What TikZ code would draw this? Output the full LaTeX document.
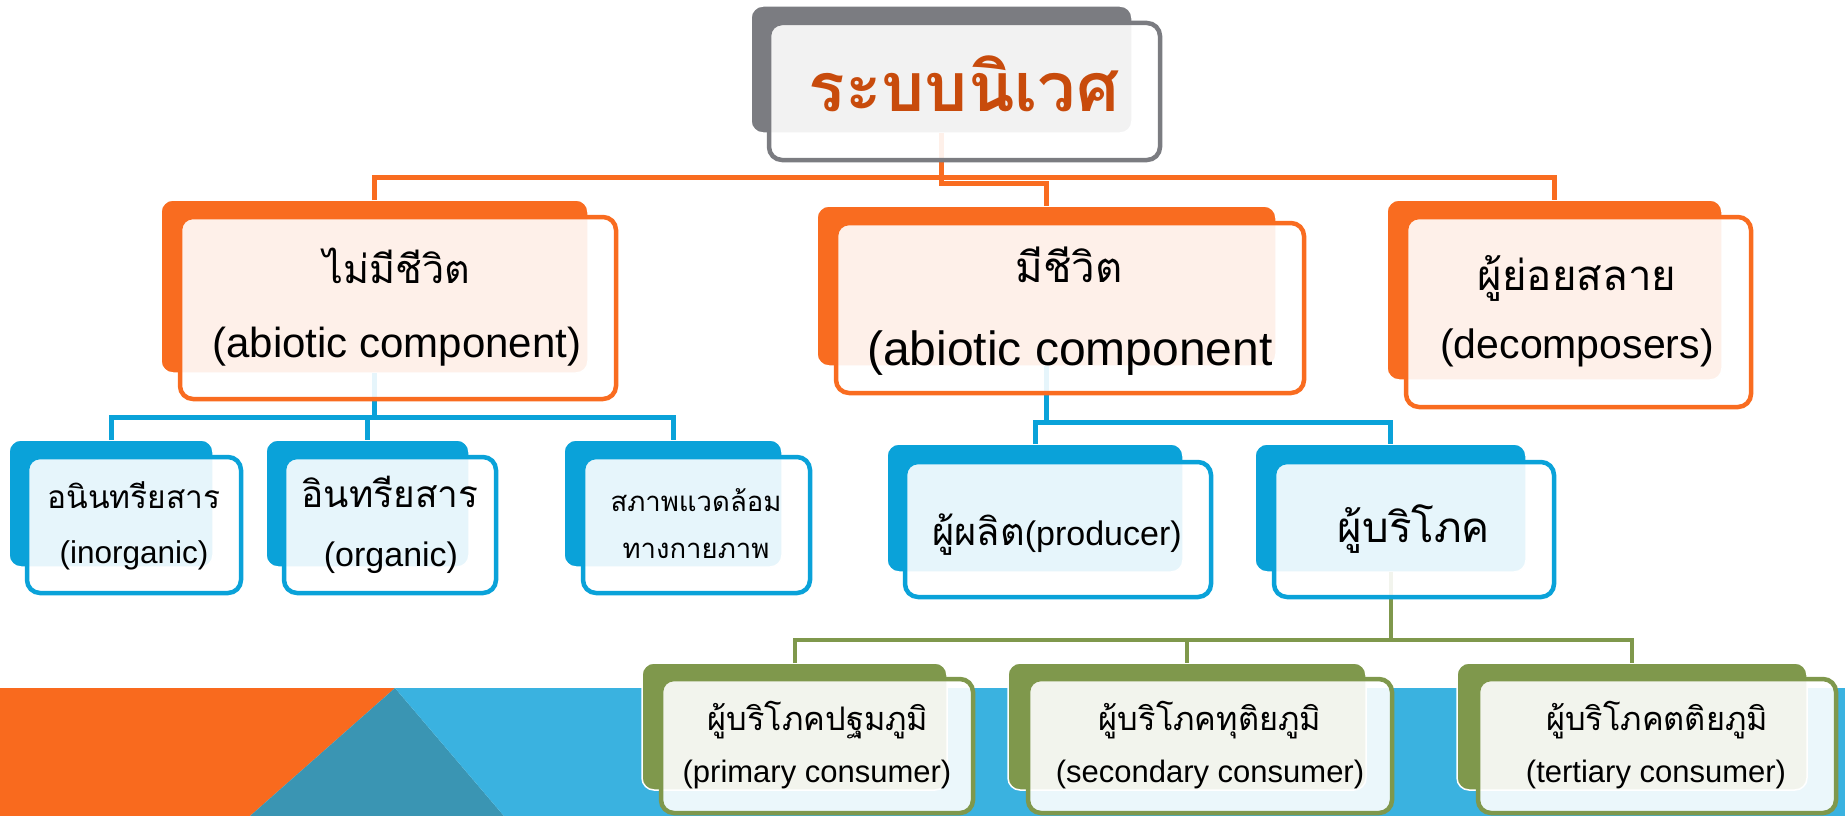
\documentclass[tikz,border=0pt]{standalone}
\usepackage{fontspec}
\setmainfont{Liberation Sans}
\newfontfamily\thai[Script=Thai]{Loma}
\definecolor{cgray}{RGB}{123,124,129}
\definecolor{corange}{RGB}{249,108,32}
\definecolor{ctitle}{RGB}{200,75,12}
\definecolor{cblue}{RGB}{10,162,217}
\definecolor{cgreen}{RGB}{127,152,76}
\definecolor{bandblue}{RGB}{58,178,224}
\definecolor{bandteal}{RGB}{58,149,179}
\definecolor{bandorange}{RGB}{249,106,30}
\tikzset{
  bbox/.style={fill=#1, draw=white, line width=1.5pt, rounded corners=12pt, inner sep=0pt, outer sep=0pt},
  fbox/.style={draw=#1, line width=4.5pt, fill=white, fill opacity=0.9, rounded corners=13pt, inner sep=0pt, outer sep=0pt},
  conn/.style={draw=#1, line width=5pt},
  txt/.style={anchor=base, inner sep=0pt, outer sep=0pt, text=black},
}
\newcommand\mkbox[6]{\node[#2, minimum width={#5-#3}, minimum height={#6-#4}] (#1) at ({(#3+#5)/2},{(#4+#6)/2}) {};}
\newcommand\fs[1]{\fontsize{#1}{#1}\selectfont}
\begin{document}
\begin{tikzpicture}[x=1pt,y=-1pt]
\useasboundingbox (0,0) rectangle (1845,816);
% bottom band
\fill[bandorange] (0,688) -- (395,688) -- (250,816) -- (0,816) -- cycle;
\fill[bandteal] (395,688) -- (250,816) -- (504,816) -- cycle;
\fill[bandblue] (395,688) -- (1845,688) -- (1845,816) -- (504,816) -- cycle;
% back boxes
\mkbox{tb}{bbox=cgray}{751}{6}{1132}{133}
\mkbox{ab}{bbox=corange}{161}{200}{588}{373}
\mkbox{bb}{bbox=corange}{817}{206}{1276}{366}
\mkbox{cb}{bbox=corange}{1387}{200}{1722}{380}
\mkbox{a1b}{bbox=cblue}{9}{440}{213}{567}
\mkbox{a2b}{bbox=cblue}{266}{440}{469}{567}
\mkbox{a3b}{bbox=cblue}{564}{440}{782}{567}
\mkbox{b1b}{bbox=cblue}{887}{444}{1183}{572}
\mkbox{b2b}{bbox=cblue}{1255}{444}{1526}{572}
\mkbox{g1b}{bbox=cgreen}{642}{663}{947}{790}
\mkbox{g2b}{bbox=cgreen}{1008}{663}{1366}{790}
\mkbox{g3b}{bbox=cgreen}{1457}{663}{1807}{790}
% bar coordinates
\coordinate (obar) at (0,177);
\coordinate (obar2) at (0,183);
\coordinate (bbar) at (0,417);
\coordinate (bbar2) at (0,422);
\coordinate (gbar) at (0,640);
% connectors
\draw[conn=corange] (ab.north) |- (obar -| tb.south) -| (cb.north);
\draw[conn=corange] (tb.south) -- (tb.south |- obar2) -| (bb.north);
\draw[conn=cblue] (a1b.north) |- (bbar -| ab.south) -| (a3b.north);
\draw[conn=cblue] (ab.south) -- (ab.south |- bbar) -| (a2b.north);
\draw[conn=cblue] (b1b.north) |- (bbar2 -| b2b.north) -- (b2b.north);
\draw[conn=cblue] (bb.south) -- (bb.south |- bbar2);
\draw[conn=cgreen, line width=4pt] (g1b.north) |- (gbar -| g3b.north) -- (g3b.north);
\draw[conn=cgreen, line width=4pt] (b2b.south) -- (b2b.south |- gbar) -| (g2b.north);
% front boxes
\mkbox{tf}{fbox=cgray}{769}{23}{1160}{160}
\mkbox{af}{fbox=corange}{180}{217}{616}{399}
\mkbox{bf}{fbox=corange}{836}{223}{1304}{393}
\mkbox{cf}{fbox=corange}{1406}{217}{1751}{407}
\mkbox{a1f}{fbox=cblue}{27}{457}{241}{593}
\mkbox{a2f}{fbox=cblue}{284}{457}{496}{593}
\mkbox{a3f}{fbox=cblue}{583}{457}{810}{593}
\mkbox{b1f}{fbox=cblue}{905}{462}{1211}{597}
\mkbox{b2f}{fbox=cblue}{1274}{462}{1554}{597}
\mkbox{g1f}{fbox=cgreen}{661}{679}{973}{813}
\mkbox{g2f}{fbox=cgreen}{1028}{679}{1392}{813}
\mkbox{g3f}{fbox=cgreen}{1478}{679}{1836}{813}
% texts
\node[txt, text=ctitle] (ttl) at (964,111) {\fs{68}\thai\bfseries ระบบนิเวศ};
\node[txt] (at1) at (397,283) {\fs{39.5}\thai ไม่มีชีวิต};
\node[txt] (at2) at (397,357) {\fs{42}(abiotic component)};
\node[txt] (bt1) at (1069,282) {\fs{42}\thai มีชีวิต};
\node[txt] (bt2) at (1070,365) {\fs{48}(abiotic component};
\node[txt] (ct1) at (1577,290) {\fs{42}\thai ผู้ย่อยสลาย};
\node[txt] (ct2) at (1577,358) {\fs{41}(decomposers)};
\node[txt] (a1t1) at (134,508) {\fs{31.7}\thai อนินทรียสาร};
\node[txt] (a1t2) at (134,563) {\fs{31.5}(inorganic)};
\node[txt] (a2t1) at (390,507) {\fs{37}\thai อินทรียสาร};
\node[txt] (a2t2) at (391,566) {\fs{34}(organic)};
\node[txt] (a3t1) at (696,511) {\fs{27.5}\thai สภาพแวดล้อม};
\node[txt] (a3t2) at (696,558) {\fs{27.5}\thai ทางกายภาพ};
\node[txt] (b1t) at (1057,545) {\fs{38}\thai ผู้ผลิต\rmfamily\fs{34}(producer)};
\node[txt] (b2t) at (1414,542) {\fs{42}\thai ผู้บริโภค};
\node[txt] (g1t1) at (818,730) {\fs{32.5}\thai ผู้บริโภคปฐมภูมิ};
\node[txt] (g1t2) at (817,782) {\fs{31}(primary consumer)};
\node[txt] (g2t1) at (1210,730) {\fs{32.5}\thai ผู้บริโภคทุติยภูมิ};
\node[txt] (g2t2) at (1210,782) {\fs{31}(secondary consumer)};
\node[txt] (g3t1) at (1657,730) {\fs{32.5}\thai ผู้บริโภคตติยภูมิ};
\node[txt] (g3t2) at (1656,782) {\fs{31}(tertiary consumer)};
\end{tikzpicture}
\end{document}
